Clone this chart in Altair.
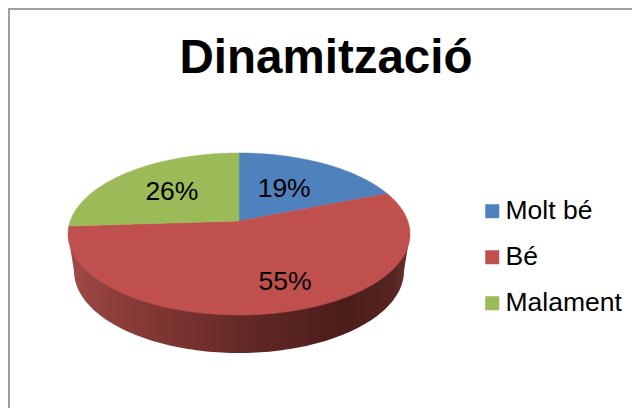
import math
import altair as alt
import pandas as pd

categories = ["Molt bé", "Bé", "Malament"]
values = [19, 55, 26]
colors = ["#4f81bd", "#c0504d", "#9bbb59"]
labels = ["19%", "55%", "26%"]
title_text = "Dinamització"
font = "Liberation Sans"

# Perspective pie geometry
CX, CY, RX, RY, E = 239, 234, 171, 81, 0.16
BX, BY, BRX, BRY = 239, 271, 165, 82
label_r = [0.52, 0.70, 0.58]
label_nudge = [-1, 17, 0]


def project(theta, r=1.0):
    x, y = r * math.sin(theta), r * math.cos(theta)
    d = 1 + E * y
    return CX + RX * x * math.sqrt(1 - E * E) / d, CY - RY * (y + E) / d


total = sum(values)
rows, text_rows = [], []
start = 0.0
for cat, v, lab, lr, nudge in zip(categories, values, labels, label_r, label_nudge):
    a0 = start / total * 2 * math.pi
    a1 = (start + v) / total * 2 * math.pi
    n = max(8, int(v * 3))
    ax, ay = project(0, 0)
    rows.append(dict(cat=cat, o=0, x=ax, y=ay))
    for i in range(n + 1):
        px, py = project(a0 + (a1 - a0) * i / n)
        rows.append(dict(cat=cat, o=i + 1, x=px, y=py))
    rows.append(dict(cat=cat, o=n + 2, x=ax, y=ay))
    tx, ty = project((a0 + a1) / 2, lr)
    text_rows.append(dict(cat=cat, label=lab, x=tx + nudge, y=ty))
    start += v
top = pd.DataFrame(rows)
texts = pd.DataFrame(text_rows)

side_rows = [dict(o=0, x=CX - RX, y=CY)]
for i in range(121):
    t = math.pi * i / 120
    side_rows.append(dict(o=i + 1, x=BX - BRX * math.cos(t), y=BY + BRY * math.sin(t)))
side_rows.append(dict(o=122, x=CX + RX, y=CY))
side = pd.DataFrame(side_rows)

W, H = 624, 400
xs = alt.Scale(domain=[8, 8 + W], range=[0, W], nice=False, zero=False)
ys = alt.Scale(domain=[8 + H, 8], range=[H, 0], nice=False, zero=False)
X = alt.X("x:Q", scale=xs, axis=None)
Y = alt.Y("y:Q", scale=ys, axis=None)

gradient = alt.Gradient(
    gradient="linear", x1=0, x2=1, y1=0, y2=0,
    stops=[
        alt.GradientStop(offset=0, color="#a34c49"),
        alt.GradientStop(offset=0.12, color="#8e3f3c"),
        alt.GradientStop(offset=0.3, color="#7c3431"),
        alt.GradientStop(offset=0.5, color="#652a27"),
        alt.GradientStop(offset=0.8, color="#4b1d1b"),
        alt.GradientStop(offset=0.95, color="#552421"),
        alt.GradientStop(offset=1, color="#6e3330"),
    ],
)

side_layer = alt.Chart(side).mark_line(fill=gradient, strokeWidth=0, stroke="#652a27").encode(
    x=X, y=Y, order="o:Q"
)
slice_layers = [
    alt.Chart(top[top.cat == c]).mark_line(fill=col, stroke=col, strokeWidth=0.5).encode(
        x=X, y=Y, order="o:Q"
    )
    for c, col in zip(categories, colors)
]

legend_layer = alt.Chart(texts).mark_square(filled=True, size=1).encode(
    x=X, y=Y,
    color=alt.Color(
        "cat:N",
        scale=alt.Scale(domain=categories, range=colors),
        legend=alt.Legend(
            orient="none", legendX=471, legendY=190, title=None,
            symbolType="square", symbolSize=196, symbolStrokeWidth=0, symbolOpacity=1,
            labelFont=font, labelFontSize=26.5, labelColor="#000000", labelOffset=0,
            rowPadding=19, labelLimit=200,
        ),
    ),
)

text_layer = alt.Chart(texts).mark_text(
    font=font, fontSize=26.5, color="#000000", align="center", baseline="middle"
).encode(x=X, y=Y, text="label:N")

frame = pd.DataFrame({"x": [8.0]})
left_rule = alt.Chart(frame).mark_rule(color="#a0a0a0", strokeWidth=2).encode(
    x=alt.value(1), y=alt.value(0), y2=alt.value(H)
)
top_rule = alt.Chart(frame).mark_rule(color="#a0a0a0", strokeWidth=2).encode(
    y=alt.value(1), x=alt.value(0), x2=alt.value(W)
)

chart = alt.layer(
    left_rule, top_rule, legend_layer, side_layer, *slice_layers, text_layer
).properties(
    width=W,
    height=H,
    padding=0,
    background="#ffffff",
    autosize=alt.AutoSizeParams(type="none"),
    title=alt.TitleParams(
        text=title_text, font=font, fontSize=47.5, fontWeight="bold", color="#000000",
        anchor="middle", dx=6, dy=113, offset=0, baseline="alphabetic",
    ),
).configure_view(stroke=None)

chart.save("out.html", embed_options={"renderer": "svg", "actions": False})
